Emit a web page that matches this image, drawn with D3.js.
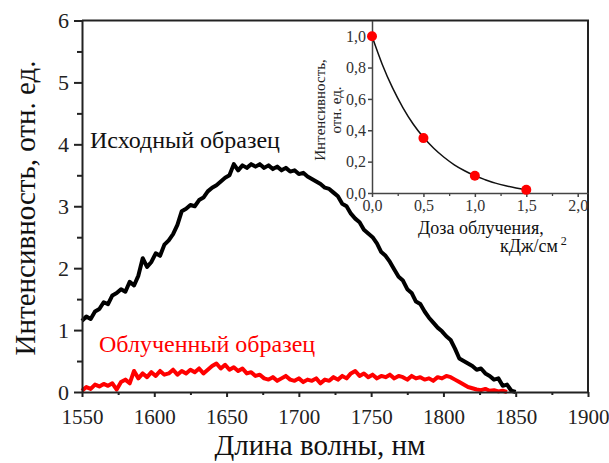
<!DOCTYPE html>
<html>
<head>
<meta charset="utf-8">
<script src="https://cdn.jsdelivr.net/npm/d3@7"></script>
<style>
  html, body { margin: 0; padding: 0; background: #fff; }
  svg { display: block; }
</style>
</head>
<body>
<svg id="chart" width="609" height="463"></svg>
<script>
// Wavelength grid (nm) for both spectra, 3 nm step
const wavelengthStart = 1550;
const wavelengthStep = 3;

// Original sample spectrum, 1550..1850 nm
const originalIntensity = [
  1.15, 1.22, 1.18, 1.30, 1.34, 1.45, 1.42, 1.56, 1.60, 1.66,
  1.62, 1.78, 1.72, 1.88, 2.16, 2.02, 2.10, 2.24, 2.20, 2.38,
  2.45, 2.55, 2.70, 2.92, 2.96, 3.02, 3.00, 3.10, 3.14, 3.24,
  3.30, 3.34, 3.40, 3.46, 3.50, 3.68, 3.58, 3.66, 3.62, 3.68,
  3.64, 3.68, 3.62, 3.66, 3.60, 3.64, 3.58, 3.62, 3.56, 3.58,
  3.52, 3.54, 3.48, 3.44, 3.40, 3.36, 3.30, 3.28, 3.22, 3.16,
  3.04, 3.00, 2.88, 2.80, 2.74, 2.62, 2.56, 2.50, 2.40, 2.26,
  2.20, 2.10, 1.98, 1.86, 1.80, 1.66, 1.60, 1.46, 1.42, 1.30,
  1.20, 1.12, 1.04, 0.98, 0.90, 0.84, 0.70, 0.54, 0.50, 0.46,
  0.42, 0.36, 0.38, 0.30, 0.26, 0.20, 0.22, 0.10, 0.12, 0.02,
  0.00
];

// Irradiated sample spectrum, 1550..1844 nm
const irradiatedIntensity = [
  0.02, 0.08, 0.05, 0.12, 0.09, 0.13, 0.10, 0.14, 0.04, 0.16,
  0.20, 0.14, 0.34, 0.22, 0.30, 0.24, 0.32, 0.26, 0.34, 0.28,
  0.30, 0.36, 0.28, 0.34, 0.30, 0.36, 0.32, 0.38, 0.30, 0.36,
  0.42, 0.46, 0.38, 0.44, 0.36, 0.40, 0.34, 0.38, 0.30, 0.32,
  0.26, 0.28, 0.22, 0.20, 0.24, 0.18, 0.22, 0.26, 0.20, 0.18,
  0.22, 0.16, 0.20, 0.18, 0.22, 0.14, 0.20, 0.18, 0.24, 0.20,
  0.26, 0.22, 0.30, 0.34, 0.26, 0.30, 0.24, 0.28, 0.22, 0.26,
  0.24, 0.28, 0.22, 0.26, 0.24, 0.20, 0.26, 0.22, 0.24, 0.20,
  0.22, 0.18, 0.24, 0.22, 0.26, 0.24, 0.20, 0.16, 0.12, 0.08,
  0.06, 0.04, 0.03, 0.05, 0.02, 0.03, 0.01, 0.02, 0.00
];

const xTicks = [1550, 1600, 1650, 1700, 1750, 1800, 1850, 1900];
const yTicks = [0, 1, 2, 3, 4, 5, 6];

// Inset: relative intensity vs irradiation dose
const doseValues = [0.0, 0.5, 1.0, 1.5];
const relIntensity = [1.0, 0.35, 0.11, 0.02];
// Fitted decay curve, read at 0.1 kJ/cm2 steps
const fitDose = [0.0, 0.1, 0.2, 0.3, 0.4, 0.5, 0.6, 0.7, 0.8, 0.9, 1.0, 1.1, 1.2, 1.3, 1.4, 1.5];
const fitValue = [1.0, 0.82, 0.67, 0.545, 0.44, 0.355, 0.285, 0.228, 0.18, 0.142, 0.11, 0.085, 0.063, 0.046, 0.032, 0.02];
const insetXTicks = [0.0, 0.5, 1.0, 1.5, 2.0];
const insetYTicks = [0.0, 0.2, 0.4, 0.6, 0.8, 1.0];

const FONT = "Liberation Serif";
const svg = d3.select("#chart");
const fmtComma = d => d3.format(".1f")(d).replace(".", ",");
const fmtInt = d3.format("d");

// ---------- main plot ----------
const L = 82, R = 588, T = 20.5, B = 392;
const x = d3.scaleLinear().domain([1550, 1900]).range([L, R]);
const y = d3.scaleLinear().domain([0, 6]).range([B, T]);

const toPoints = arr => arr.map((v, i) => [wavelengthStart + i * wavelengthStep, v]);
const line = d3.line().x(d => x(d[0])).y(d => y(d[1]));

svg.append("path")
  .datum(toPoints(originalIntensity))
  .attr("d", line)
  .attr("fill", "none").attr("stroke", "#000")
  .attr("stroke-width", 4).attr("stroke-linejoin", "round");

svg.append("path")
  .datum(toPoints(irradiatedIntensity))
  .attr("d", line)
  .attr("fill", "none").attr("stroke", "#ff0000")
  .attr("stroke-width", 4).attr("stroke-linejoin", "round");

// frame (top and right)
svg.append("path")
  .attr("d", `M${L},${T}H${R}V${B}`)
  .attr("fill", "none").attr("stroke", "#222").attr("stroke-width", 2);

// minor ticks
const xMinor = d3.axisBottom(x).tickValues(d3.range(1575, 1900, 50)).tickSize(3).tickFormat("");
const yMinor = d3.axisLeft(y).tickValues(d3.range(0.5, 6, 1)).tickSize(5).tickFormat("");
svg.append("g").attr("transform", `translate(0,${B})`).call(xMinor)
  .call(g => g.select(".domain").remove())
  .selectAll("line").attr("stroke", "#222").attr("stroke-width", 2);
svg.append("g").attr("transform", `translate(${L},0)`).call(yMinor)
  .call(g => g.select(".domain").remove())
  .selectAll("line").attr("stroke", "#222").attr("stroke-width", 2);

function styleAxis(g, color, width, size, textColor) {
  g.select(".domain").attr("stroke", color).attr("stroke-width", width);
  g.selectAll(".tick line").attr("stroke", color).attr("stroke-width", width);
  g.selectAll(".tick text").attr("font-size", size).attr("fill", textColor);
}

const xAxis = d3.axisBottom(x).tickValues(xTicks).tickFormat(fmtInt)
  .tickSize(5).tickSizeOuter(0).tickPadding(12);
const gx = svg.append("g").attr("transform", `translate(0,${B})`).call(xAxis);
styleAxis(gx, "#222", 2, 21, "#222");

const yAxis = d3.axisLeft(y).tickValues(yTicks).tickFormat(fmtInt)
  .tickSize(8).tickSizeOuter(0).tickPadding(5);
const gy = svg.append("g").attr("transform", `translate(${L},0)`).call(yAxis);
styleAxis(gy, "#222", 2, 22, "#222");

// axis titles
svg.append("text")
  .attr("transform", "translate(35,208) rotate(-90)")
  .attr("text-anchor", "middle").attr("font-size", 29).attr("fill", "#111")
  .text("Интенсивность, отн. ед.");
svg.append("text")
  .attr("x", 320).attr("y", 455)
  .attr("text-anchor", "middle").attr("font-size", 29).attr("fill", "#111")
  .text("Длина волны, нм");

// series labels
svg.append("text").attr("x", 90).attr("y", 148)
  .attr("font-size", 24).attr("fill", "#111").text("Исходный образец");
svg.append("text").attr("x", 99).attr("y", 352)
  .attr("font-size", 24).attr("fill", "#ff0000").text("Облученный образец");

// ---------- inset ----------
const iL = 372, iR = 588, iT = 20.5, iB = 193;
const ix = d3.scaleLinear().domain([0, 2.1]).range([iL, iR]);
const iy = d3.scaleLinear().domain([0, 1.1]).range([iB, iT]);

const ixMinor = d3.axisBottom(ix).tickValues([0.25, 0.75, 1.25, 1.75]).tickSize(3).tickFormat("");
svg.append("g").attr("transform", `translate(0,${iB})`).call(ixMinor)
  .call(g => g.select(".domain").remove())
  .selectAll("line").attr("stroke", "#444").attr("stroke-width", 1.3);

const ixAxis = d3.axisBottom(ix).tickValues(insetXTicks).tickFormat(fmtComma)
  .tickSize(4).tickSizeOuter(0).tickPadding(3);
const gix = svg.append("g").attr("transform", `translate(0,${iB})`).call(ixAxis);
styleAxis(gix, "#444", 1.5, 16, "#333");

const iyAxis = d3.axisLeft(iy).tickValues(insetYTicks).tickFormat(fmtComma)
  .tickSize(4).tickSizeOuter(0).tickPadding(2);
const giy = svg.append("g").attr("transform", `translate(${iL},0)`).call(iyAxis);
styleAxis(giy, "#444", 1.5, 16, "#333");

// fitted curve
svg.append("path")
  .datum(fitDose.map((d, i) => [d, fitValue[i]]))
  .attr("d", d3.line().x(d => ix(d[0])).y(d => iy(d[1])).curve(d3.curveMonotoneX))
  .attr("fill", "none").attr("stroke", "#111").attr("stroke-width", 1.5);

// measured points
svg.append("g").selectAll("circle")
  .data(doseValues.map((d, i) => [d, relIntensity[i]]))
  .join("circle")
  .attr("cx", d => ix(d[0])).attr("cy", d => iy(d[1])).attr("r", 5)
  .attr("fill", "#ff0000");

// inset axis titles
const iyTitle = svg.append("text")
  .attr("transform", "translate(0,110) rotate(-90)")
  .attr("text-anchor", "middle").attr("font-size", 15).attr("fill", "#222");
iyTitle.append("tspan").attr("x", 0).attr("y", 325).text("Интенсивность,");
iyTitle.append("tspan").attr("x", 0).attr("y", 341).text("отн. ед.");

svg.append("text").attr("x", 418).attr("y", 234)
  .attr("font-size", 18).attr("fill", "#111").text("Доза облучения,");
const unit = svg.append("text").attr("x", 500).attr("y", 252)
  .attr("font-size", 18).attr("fill", "#111");
unit.append("tspan").text("кДж/см");
unit.append("tspan").attr("dx", 3).attr("dy", -7).attr("font-size", 12).text("2");

// one serif face for every label
svg.selectAll("g").attr("font-family", FONT);
svg.selectAll("text").attr("font-family", FONT);
</script>
</body>
</html>
